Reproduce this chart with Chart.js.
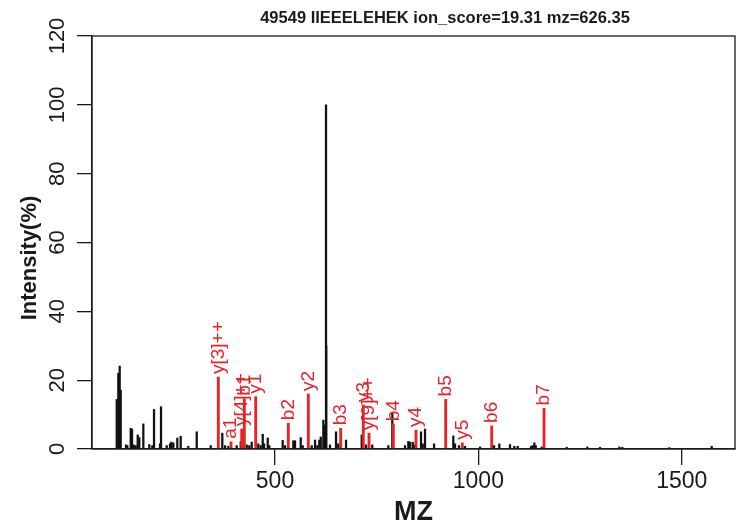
<!DOCTYPE html>
<html><head><meta charset="utf-8">
<script src="https://cdn.jsdelivr.net/npm/chart.js@4"></script>
<style>html,body{margin:0;padding:0;background:#fff}#c{display:block}</style>
</head><body>
<canvas id="c" width="745" height="529"></canvas>
<script>
const titleText = "49549 IIEEELEHEK ion_score=19.31 mz=626.35";
const xAxisTitle = "MZ";
const yAxisTitle = "Intensity(%)";
const xTicks = [500, 1000, 1500];
const yTicks = [0, 20, 40, 60, 80, 100, 120];

// unassigned peaks (black)
const peakMz = [110.8,114.7,118.1,120.6,133.6,136.8,145.2,148.4,152.6,157.5,162.4,166.3,176.2,190.9,198.3,202.5,217.2,219.7,233.7,241.8,245.0,249.9,259.8,268.1,286.8,307.5,341.9,370.4,377.1,385.2,405.8,415.7,430.4,436.8,442.7,458.9,464.8,469.8,473.0,482.1,486.0,518.9,524.6,545.0,549.2,563.2,568.1,590.2,598.4,604.0,608.9,612.4,618.8,622.2,625.4,625.9,635.2,650.0,655.6,674.6,713.2,723.7,739.2,778.6,788.4,819.6,827.8,831.9,838.6,842.5,859.0,863.2,868.8,891.0,938.4,942.6,952.4,967.2,1004.1,1038.5,1051.5,1077.8,1088.4,1096.7,1129.5,1133.6,1137.6,1141.0,1155.8,1217.2,1267.9,1299.1,1346.6,1353.9,1469.5,1573.7];
const peakIntensity = [14.4,22.0,24.1,17.1,1.2,1.0,6.0,5.8,1.2,1.0,4.1,3.3,7.3,1.3,1.0,11.5,1.5,12.3,1.0,1.5,2.0,1.8,3.2,3.7,0.8,5.0,1.0,4.6,1.0,0.8,1.0,2.1,1.2,1.0,2.0,1.5,1.0,4.3,1.5,3.2,1.0,2.5,1.0,2.4,2.4,3.3,1.0,1.0,2.6,1.0,2.6,3.5,8.4,7.0,100,30,1.2,5.0,1.5,2.6,4.1,1.2,1.2,1.0,10.4,1.0,2.2,2.0,2.0,1.2,5.0,1.5,5.8,1.5,3.8,1.5,1.0,0.8,0.6,1.0,1.5,1.3,0.8,0.8,0.8,1.0,1.8,1.0,0.6,0.5,0.6,0.5,0.6,0.5,0.4,0.8];

// assigned fragment ions (red)
const ionLabels = ["y[3]++","a1","y[4]++","b1","y1","b2","y2","b3","y3","y[9]++","b4","y4","b5","y5","b6","b7"];
const ionMz = [360.6,391.8,418.1,424.5,452.5,532.7,581.9,661.5,717.1,731.1,790.9,846.7,919.7,960.5,1032.8,1161.4];
const ionIntensity = [20.9,2.1,5.8,14.6,15.2,7.5,16.0,6.0,12.8,4.6,7.2,5.5,14.4,1.8,6.7,11.8];

const FONT = "'Liberation Sans', Arial, Helvetica, sans-serif";
const RED = '#e8222a';
const INK = '#1a1a1a';

const overlay = {
  id: 'overlay',
  afterDraw(chart) {
    const ctx = chart.ctx;
    const a = chart.chartArea;
    const xs = chart.scales.x, ys = chart.scales.y;
    ctx.save();
    // plot box
    ctx.strokeStyle = INK; ctx.lineWidth = 1.3;
    ctx.strokeRect(a.left, a.top, a.right - a.left, a.bottom - a.top);
    // y tick labels (rotated, R style)
    ctx.fillStyle = INK;
    ctx.font = "22px " + FONT;
    ctx.textAlign = 'center'; ctx.textBaseline = 'middle';
    yTicks.forEach(v => {
      const py = ys.getPixelForValue(v);
      ctx.save(); ctx.translate(58, py); ctx.rotate(-Math.PI / 2);
      ctx.fillText(String(v), 0, 0); ctx.restore();
    });
    // y axis title
    ctx.font = "bold 22px " + FONT;
    ctx.save(); ctx.translate(30, 258); ctx.rotate(-Math.PI / 2);
    ctx.fillText(yAxisTitle, 0, 0); ctx.restore();
    // ion labels
    ctx.fillStyle = RED;
    ctx.font = "19px " + FONT;
    ctx.textAlign = 'left'; ctx.textBaseline = 'middle';
    ionLabels.forEach((t, i) => {
      const px = xs.getPixelForValue(ionMz[i]);
      const py = ys.getPixelForValue(ionIntensity[i]);
      ctx.save(); ctx.translate(px, py - 3); ctx.rotate(-Math.PI / 2);
      ctx.fillText(t, 0, 0); ctx.restore();
    });
    // title
    ctx.fillStyle = INK;
    ctx.font = "bold 16.5px " + FONT;
    ctx.textAlign = 'center'; ctx.textBaseline = 'middle';
    ctx.fillText(titleText, 445, 18);
    ctx.restore();
  }
};

new Chart(document.getElementById('c'), {
  type: 'bar',
  data: {
    datasets: [
      { label: 'ions', data: ionMz.map((x, i) => ({ x: x, y: ionIntensity[i] })),
        backgroundColor: RED, barThickness: 2.2, grouped: false },
      { label: 'peaks', data: peakMz.map((x, i) => ({ x: x, y: peakIntensity[i] })),
        backgroundColor: '#111111', barThickness: 1.6, grouped: false }
    ]
  },
  options: {
    responsive: false, animation: false, devicePixelRatio: 1,
    layout: { padding: { left: 0, right: 10, top: 36, bottom: 0 } },
    plugins: { legend: { display: false }, tooltip: { enabled: false }, title: { display: false } },
    scales: {
      x: {
        type: 'linear', min: 50, max: 1631, offset: false,
        grid: { offset: false, drawOnChartArea: false, drawTicks: true, tickLength: 16, color: INK, lineWidth: 1.3 },
        border: { display: true, color: INK, width: 1.3 },
        ticks: { font: { family: FONT, size: 23 }, color: INK, padding: 3, maxRotation: 0,
                 callback: v => String(v) },
        afterBuildTicks: s => { s.ticks = xTicks.map(v => ({ value: v })); },
        afterFit: s => { s.height = 80; },
        title: { display: true, text: xAxisTitle, color: INK, font: { family: FONT, size: 27, weight: 'bold' }, padding: { top: 0, bottom: 0 } }
      },
      y: {
        type: 'linear', min: 0, max: 120,
        grid: { drawOnChartArea: false, drawTicks: true, tickLength: 15, color: INK, lineWidth: 1.3 },
        border: { display: true, color: INK, width: 1.3 },
        ticks: { display: false },
        afterBuildTicks: s => { s.ticks = yTicks.map(v => ({ value: v })); },
        afterFit: s => { s.width = 92; },
        title: { display: false }
      }
    }
  },
  plugins: [overlay]
});
</script>
</body></html>
